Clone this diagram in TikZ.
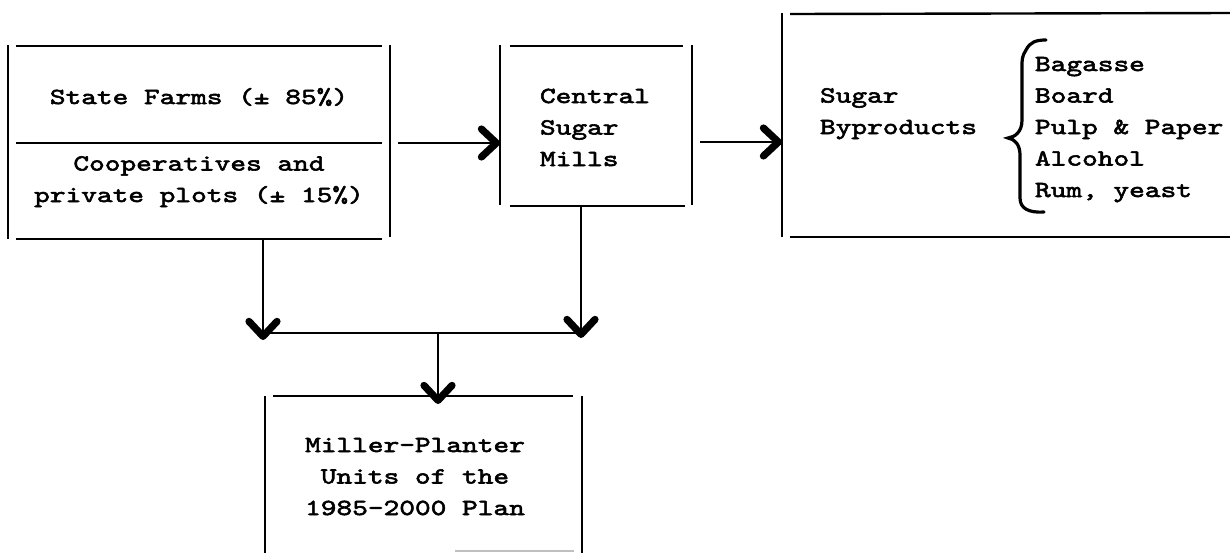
\documentclass[tikz,border=0pt]{standalone}
\usepackage{fontspec}
\newfontfamily\tw[FakeStretch=1.3,FakeBold=2.5]{lmmono10-regular.otf}
\usetikzlibrary{arrows.meta,calc}
\begin{document}
\begin{tikzpicture}[x=0.5pt,y=-0.5pt,
  box/.style={draw=none,inner sep=0pt,outer sep=0pt,rectangle},
  edge/.style={line width=1.2pt},
  conn/.style={line width=1pt},
  arr/.style={conn,arrows={-Straight Barb[length=7.5pt,width=14pt,line width=3.6pt,round]}},
  txt/.style={font=\tw\fontsize{11.5}{15.75}\selectfont, inner sep=0pt, outer sep=0pt}]
\useasboundingbox[fill=white] (0,0) rectangle (1230,553);
% box placeholders
\node[box,minimum width=191pt,minimum height=97pt] (b1) at (199,142) {};
\node[box,minimum width=96pt,minimum height=80pt] (b2) at (596,125) {};
\node[box,minimum width=224pt,minimum height=112pt] (b3) at (1006,125) {};
\node[box,minimum width=158.5pt,minimum height=78.5pt] (b4) at (423.5,474.5) {};
% box 1
\draw[edge] (b1.north west) -- (b1.south west);
\draw[edge] (b1.north east) -- ($(b1.south east)+(0,-2)$);
\draw[edge] ($(b1.north west)+(8,1)$) -- ($(b1.north east)+(-8,1)$);
\draw[edge] ($(b1.west)+(8,1)$) -- ($(b1.east)+(-8,1)$);
\draw[edge] ($(b1.south west)+(8,0)$) -- ($(b1.south east)+(-8,0)$);
% box 2
\draw[edge] (b2.north west) -- (b2.south west);
\draw[edge] (b2.north east) -- (b2.south east);
\draw[edge] ($(b2.north west)+(10,1)$) -- ($(b2.north east)+(-9,1)$);
\draw[edge] ($(b2.south west)+(10,1)$) -- ($(b2.south east)+(-7,1)$);
% box 3
\draw[edge] (b3.north west) -- (b3.south west);
\draw[edge] ($(b3.north west)+(8,1)$) -- (b3.north east);
\draw[edge] ($(b3.south west)+(8,0)$) -- (b3.south east);
% box 4
\draw[edge] (b4.north west) -- (b4.south west);
\draw[edge] (b4.north east) -- (b4.south east);
\draw[edge] ($(b4.north west)+(8,0)$) -- ($(b4.north east)+(-9,0)$);
\draw[line width=0.8pt,black!25] ($(b4.south west)+(190,-2)$) -- ($(b4.south east)+(-8,-2)$);
% texts (base of a multi-line node = last line's baseline)
\node[txt,anchor=base] (t1) at (199,104) {State Farms (± 85\%)};
\node[txt,anchor=base,align=center] (t2) at (199,202) {Cooperatives and\\private plots (± 15\%)};
\node[txt,anchor=base west,align=left] (t3) at (540,166) {Central\\Sugar\\Mills};
\node[txt,anchor=base west,align=left] (t4) at (820,134) {Sugar\\Byproducts};
\node[txt,anchor=base west,align=left] (t5) at (1035,197) {Bagasse\\Board\\Pulp \& Paper\\Alcohol\\Rum, yeast};
\node[txt,anchor=base,align=center] (t6) at (415,515) {Miller-Planter\\Units of the\\1985-2000 Plan};
% brace
\draw[line width=1.6pt,line cap=round] (1046,40) .. controls (1036,40) and (1030,42) .. (1026,50) .. controls (1022,56) and (1022,60) .. (1022,66) -- (1022,120) .. controls (1022,132) and (1015,137) .. (1008,138) .. controls (1015,139) and (1020,145) .. (1020,155) -- (1020,198) .. controls (1020,208) and (1028,213) .. (1044,212);
% connectors
\coordinate (tl) at (263,340);
\coordinate (tr) at (581,338);
\coordinate (hl) at (263,333);
\coordinate (hr) at (583,333);
\coordinate (hm) at (438,333);
\coordinate (tb) at (438,404);
\draw[arr] (tl |- b1.south) -- (tl);
\draw[arr] (tr |- b2.south) -- (tr);
\draw[conn] (hl) -- (hr);
\draw[arr] (hm) -- (tb);
\draw[arr] ($(b1.east)+(8,1)$) -- ($(b1.east -| b2.west)+(0,1)$);
\draw[arr] ($(b2.east |- b1.east)+(8,0)$) -- (b1.east -| b3.west);
\end{tikzpicture}
\end{document}
